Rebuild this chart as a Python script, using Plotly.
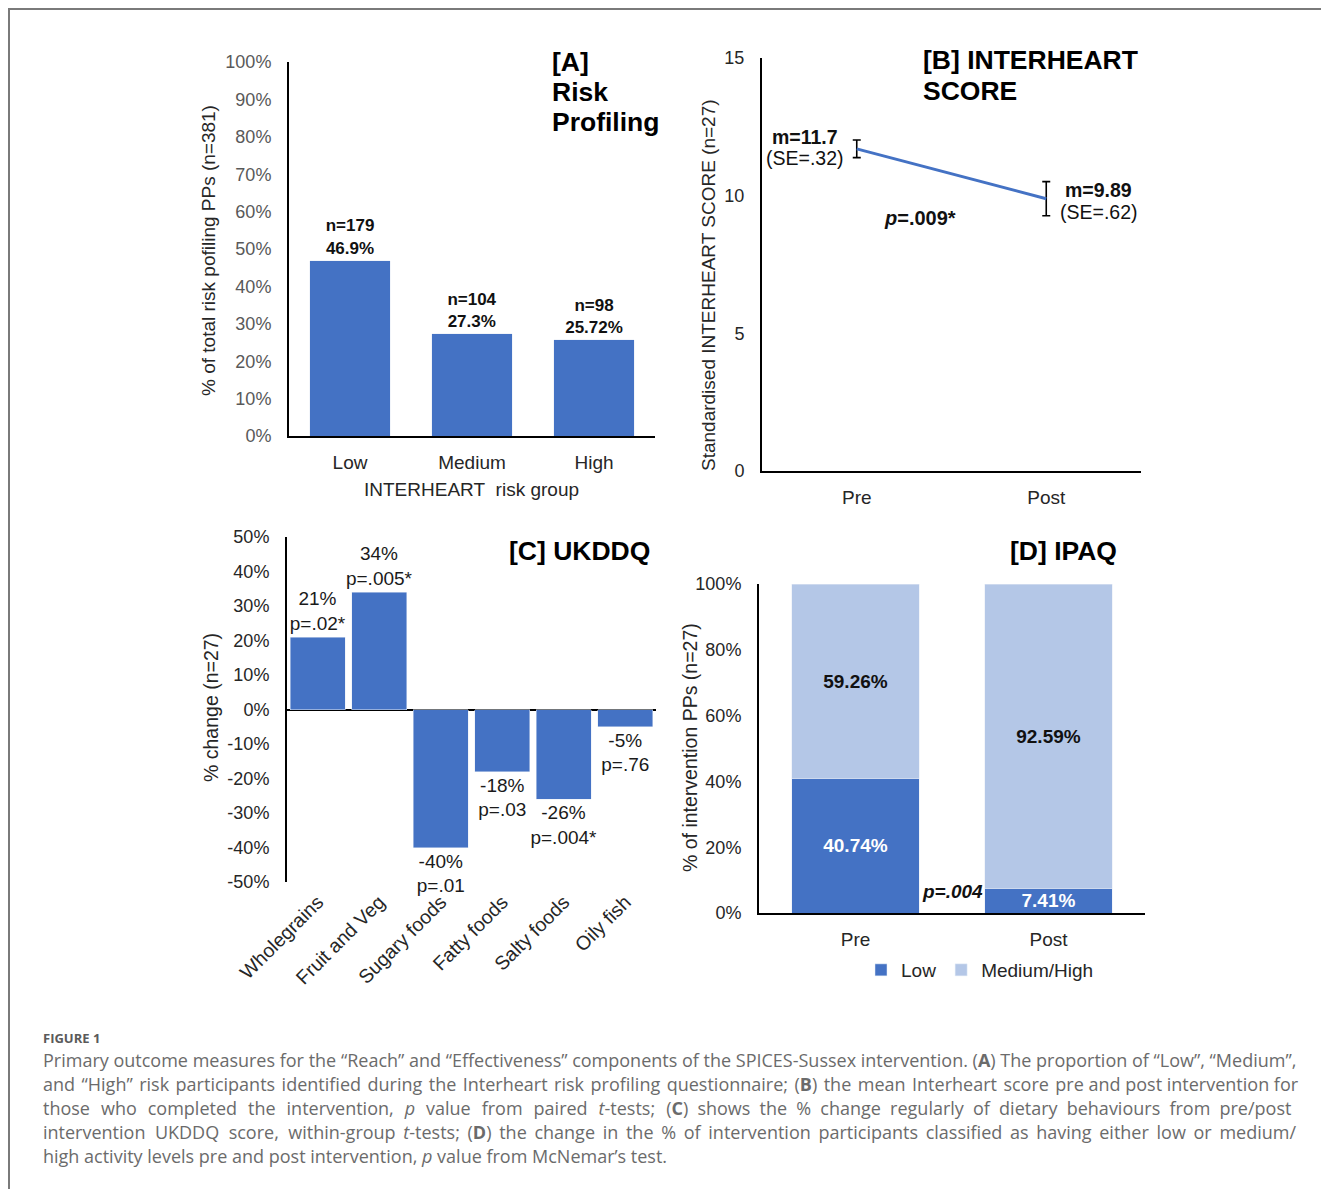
import plotly.graph_objects as go

# the page body has an 8px margin; size the figure so it fills the visible window exactly
OFF = 8
W, H = 1329 - OFF, 1189 - OFF


def px(x):
    return (x - OFF) / W


def py(y):
    return 1 - (y - OFF) / H


# ---------------- data ----------------
a_groups = ["Low", "Medium", "High"]
a_share = [0.469, 0.273, 0.2572]
a_n = [179, 104, 98]
a_pct_labels = ["46.9%", "27.3%", "25.72%"]

b_time = ["Pre", "Post"]
b_mean = [11.7, 9.89]
b_se = [0.32, 0.62]

c_foods = ["Wholegrains", "Fruit and Veg", "Sugary foods", "Fatty foods", "Salty foods", "Oily fish"]
c_change = [0.21, 0.34, -0.40, -0.18, -0.26, -0.05]
c_pct_labels = ["21%", "34%", "-40%", "-18%", "-26%", "-5%"]
c_pvals = ["p=.02*", "p=.005*", "p=.01", "p=.03", "p=.004*", "p=.76"]
c_tickvals = [0.5, 0.4, 0.3, 0.2, 0.1, 0.0, -0.1, -0.2, -0.3, -0.4, -0.5]
c_ticktext = ["50%", "40%", "30%", "20%", "10%", "0%", "-10%", "-20%", "-30%", "-40%", "-50%"]

d_time = ["Pre", "Post"]
d_low = [0.4074, 0.0741]
d_medhigh = [0.5926, 0.9259]

BLUE = "#4472C4"
LIGHT = "#B4C7E7"
FONT = "Liberation Sans, Arial, sans-serif"
DARK = "#262626"

fig = go.Figure()

# [A]
fig.add_trace(go.Bar(
    x=a_groups, y=a_share, xaxis="x", yaxis="y", width=0.66,
    marker=dict(color=BLUE), showlegend=False,
    text=[f"n={n}<br>{p}" for n, p in zip(a_n, a_pct_labels)],
    textposition="outside", constraintext="none", cliponaxis=False,
    textfont=dict(size=17, color="#111111", family=FONT, weight="bold"),
))

# [B]
fig.add_trace(go.Scatter(
    x=b_time, y=b_mean, xaxis="x2", yaxis="y2", mode="lines",
    line=dict(color=BLUE, width=3), showlegend=False,
    error_y=dict(type="data", array=b_se, color="black", thickness=1.6, width=4),
))

# [C]
fig.add_trace(go.Bar(
    x=c_foods, y=c_change, xaxis="x3", yaxis="y3", width=0.89,
    marker=dict(color=BLUE), showlegend=False,
    text=[f"{l}<br>{p}" for l, p in zip(c_pct_labels, c_pvals)],
    textposition="outside", constraintext="none", cliponaxis=False,
    textfont=dict(size=19, color="#1a1a1a", family=FONT),
))

# [D]
fig.add_trace(go.Bar(
    x=d_time, y=d_low, xaxis="x4", yaxis="y4", width=0.66, name="Low",
    marker=dict(color=BLUE), texttemplate="%{y:.2%}", textposition="inside",
    insidetextanchor="middle", constraintext="none",
    textfont=dict(size=19, color="white", family=FONT, weight="bold"),
))
fig.add_trace(go.Bar(
    x=d_time, y=d_medhigh, xaxis="x4", yaxis="y4", width=0.66, name="Medium/High",
    marker=dict(color=LIGHT), texttemplate="%{y:.2%}", textposition="inside",
    insidetextanchor="middle", constraintext="none",
    textfont=dict(size=19, color="#111111", family=FONT, weight="bold"),
))

axis_common = dict(showgrid=False, zeroline=False, fixedrange=True, automargin=False)

ann = []


def note(text, x, y, size=19, color=DARK, xanchor="center", yanchor="middle", angle=0,
         bold=False, italic=False, family=FONT):
    ann.append(dict(
        text=text, x=px(x), y=py(y), xref="paper", yref="paper", showarrow=False,
        xanchor=xanchor, yanchor=yanchor, textangle=angle,
        font=dict(size=size, color=color, family=family, weight="bold" if bold else "normal",
                  style="italic" if italic else "normal"),
    ))


# axis titles
note("% of total risk pofiling PPs (n=381)", 208, 251, angle=-90)
note("INTERHEART\u00a0 risk group", 471, 489)
note("Standardised INTERHEART SCORE (n=27)", 708, 285, angle=-90)
note("% change (n=27)", 211, 707, size=19.5, angle=-90)
note("% of intervention PPs (n=27)", 690, 748, size=19.5, angle=-90)

# panel titles
TS = 26.5
for i, t in enumerate(["[A]", "Risk", "Profiling"]):
    note(t, 550, 62 + 30 * i, size=TS, color="#000000", xanchor="left", bold=True)
for i, t in enumerate(["[B] INTERHEART", "SCORE"]):
    note(t, 921, 60 + 31 * i, size=TS, color="#000000", xanchor="left", bold=True)
note("[C] UKDDQ", 507, 551, size=TS, color="#000000", xanchor="left", bold=True)
note("[D] IPAQ", 1008, 551, size=TS, color="#000000", xanchor="left", bold=True)

# panel B labels
note("m=11.7", 805, 137, size=19.5, color="#111111", bold=True)
note("(SE=.32)", 805, 158, size=19.5, color="#111111")
note("m=9.89", 1098, 190, size=19.5, color="#111111", bold=True)
note("(SE=.62)", 1099, 212, size=19.5, color="#111111")
note("<i>p</i>=.009*", 920, 218, size=20, color="#111111", bold=True)

# panel D p-value
note("p=.004", 952, 891, size=19, color="#111111", bold=True, italic=True)

# caption
CAP = "Open Sans, sans-serif"
CAPC = "#6b6b6b"
note("FIGURE 1", 41, 1038, size=13, color="#5a5a5a", xanchor="left", bold=True, family=CAP)
cap_lines = [
    "Primary outcome measures for the “Reach” and “Effectiveness” components of the SPICES-Sussex intervention. (<b>A</b>) The proportion of “Low”, “Medium”,",
    "and “High” risk participants identified during the Interheart risk profiling questionnaire; (<b>B</b>) the mean Interheart score pre and post intervention for",
    "those who completed the intervention, <i>p</i> value from paired <i>t</i>-tests; (<b>C</b>) shows the % change regularly of dietary behaviours from pre/post",
    "intervention UKDDQ score, within-group <i>t</i>-tests; (<b>D</b>) the change in the % of intervention participants classified as having either low or medium/",
    "high activity levels pre and post intervention, <i>p</i> value from McNemar’s test.",
]
# extra word spacing that imitates the justified caption lines
cap_gaps = ["", "", "\u2005", "\u2006", ""]
cap_hair = [0, 16, 10, 3, 0]


def spaced(text, gap, n_hair):
    parts = text.split(" ")
    out = parts[0]
    for k, p in enumerate(parts[1:]):
        out += " " + gap + ("\u200a" if k < n_hair else "") + p
    return out


for i, (t, g, nh) in enumerate(zip(cap_lines, cap_gaps, cap_hair)):
    note(spaced(t, g, nh), 41, 1060 + 24 * i, size=18, color=CAPC, xanchor="left", family=CAP)

tickA = dict(size=18, color="#595959", family=FONT)
tick = dict(size=18, color=DARK, family=FONT)
xtick = dict(size=19, color=DARK, family=FONT)

fig.update_layout(
    width=W, height=H, margin=dict(l=0, r=0, t=0, b=0, pad=0, autoexpand=False),
    paper_bgcolor="white", plot_bgcolor="white",
    barmode="stack", font=dict(family=FONT, color=DARK),
    annotations=ann,
    uniformtext=dict(mode="show", minsize=17),
    xaxis=dict(domain=[px(289), px(655)], anchor="y", range=[-0.5, 2.5], showline=True,
               linecolor="black", linewidth=2, tickfont=xtick, ticklabelstandoff=8, **axis_common),
    yaxis=dict(domain=[py(436), py(62)], anchor="x", range=[0, 1], dtick=0.1, tickformat=".0%",
               showline=True, linecolor="black", linewidth=2, tickfont=tickA, ticklabelstandoff=12,
               **axis_common),
    xaxis2=dict(domain=[px(762), px(1141)], anchor="y2", range=[-0.5, 1.5], showline=True,
                linecolor="black", linewidth=2, tickfont=xtick, ticklabelstandoff=8, **axis_common),
    yaxis2=dict(domain=[py(471), py(58)], anchor="x2", range=[0, 15], dtick=5, showline=True,
                linecolor="black", linewidth=2, tickfont=tick, ticklabelstandoff=12, **axis_common),
    xaxis3=dict(domain=[px(287), px(656)], anchor="y3", range=[-0.5, 5.5], showline=False,
                tickangle=-45, tickfont=dict(size=19.5, color=DARK, family=FONT),
                ticklabelstandoff=4, **axis_common),
    yaxis3=dict(domain=[py(882), py(537)], anchor="x3", range=[-0.5, 0.5], tickvals=c_tickvals,
                ticktext=c_ticktext, showline=True, linecolor="black", linewidth=2, tickfont=tick,
                ticklabelstandoff=12, showgrid=False, zeroline=True, zerolinecolor="black",
                zerolinewidth=2, fixedrange=True, automargin=False),
    xaxis4=dict(domain=[px(759), px(1145)], anchor="y4", range=[-0.5, 1.5], showline=True,
                linecolor="black", linewidth=2, tickfont=xtick, ticklabelstandoff=8, **axis_common),
    yaxis4=dict(domain=[py(913), py(584)], anchor="x4", range=[0, 1], dtick=0.2, tickformat=".0%",
                showline=True, linecolor="black", linewidth=2, tickfont=tick, ticklabelstandoff=12,
                **axis_common),
    legend=dict(orientation="h", x=px(980), xanchor="center", y=py(970), yanchor="middle",
                traceorder="normal", font=dict(size=19, color=DARK, family=FONT),
                itemwidth=30, bgcolor="rgba(0,0,0,0)"),
    shapes=[
        dict(type="line", xref="paper", yref="paper", x0=px(8), x1=1, y0=py(9), y1=py(9),
             line=dict(color="#7a7a7a", width=2)),
        dict(type="line", xref="paper", yref="paper", x0=px(9), x1=px(9), y0=py(8), y1=0,
             line=dict(color="#7a7a7a", width=2)),
    ],
)

fig.write_html("out.html")
